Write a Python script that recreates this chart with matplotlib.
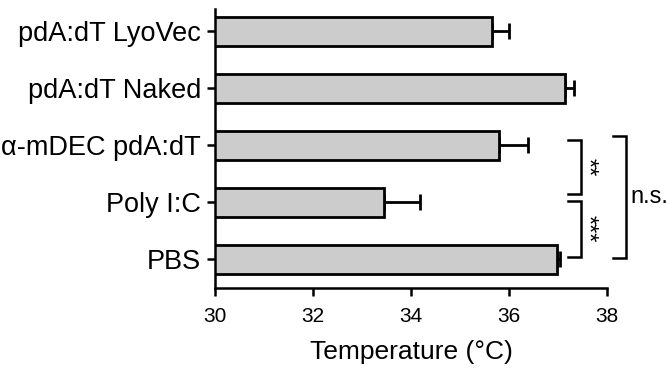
import numpy as np
from matplotlib import pyplot as plt

plt.rcParams['font.family'] = ['Liberation Sans', 'DejaVu Sans']

# data (top to bottom)
groups = ["pdA:dT LyoVec", "pdA:dT Naked", "α-mDEC pdA:dT", "Poly I:C", "PBS"]
temps = [35.66, 37.14, 35.80, 33.44, 36.99]
errs = [0.34, 0.19, 0.59, 0.74, 0.06]

# significance brackets: (from group, to group, label)
comparisons = [(2, 3, "**"), (3, 4, "***")]
overall = (2, 4, "n.s.")

fig = plt.figure(figsize=(6.67, 3.75), dpi=100)
ax = fig.add_axes([0.3223, 0.232, 0.5877, 0.745])

ypos = np.arange(len(groups))[::-1]
ax.barh(ypos, temps, height=0.5, left=0, color="#cccccc", edgecolor="black",
        linewidth=2, zorder=2)
ax.errorbar(temps, ypos, xerr=[np.zeros(len(errs)), errs], fmt="none",
            ecolor="black", elinewidth=2, capsize=5.5, capthick=2, zorder=1)

ax.set_xlim(30, 38)
ax.set_ylim(-0.5, 4.4)
ax.set_xticks([30, 32, 34, 36, 38])
ax.set_yticks(ypos)
ax.set_yticklabels(groups)
ax.tick_params(axis="both", width=1.8, length=6)
ax.tick_params(axis="x", labelsize=15, pad=8)
ax.tick_params(axis="y", labelsize=19.5, pad=4)
ax.spines["top"].set_visible(False)
ax.spines["right"].set_visible(False)
ax.spines["left"].set_linewidth(1.8)
ax.spines["bottom"].set_linewidth(1.8)
ax.set_xlabel("Temperature (°C)", fontsize=19, labelpad=10)

# brackets
def bracket(x0, x1, ya, yb, label, tx, rot):
    ax.plot([x0, x1, x1, x0], [ya, ya, yb, yb], color="black", lw=1.8,
            clip_on=False, solid_joinstyle="miter")
    ax.text(tx, (ya + yb) / 2, label, rotation=rot, ha="center" if rot else "left",
            va="center", fontsize=17 if rot else 17)

y_of = lambda i: ypos[i]
for a, b, lab in comparisons:
    ya = y_of(a) + 0.1 if a == 2 else y_of(a) + 0.03
    yb = y_of(b) + 0.14 if b == 3 else y_of(b) + 0.05
    bracket(37.2, 37.48, ya, yb, lab, 37.6, 270)
bracket(38.12, 38.39, y_of(overall[0]) + 0.17, y_of(overall[1]) + 0.03,
        overall[2], 38.48, 0)

fig.savefig("out.png", dpi=100)
